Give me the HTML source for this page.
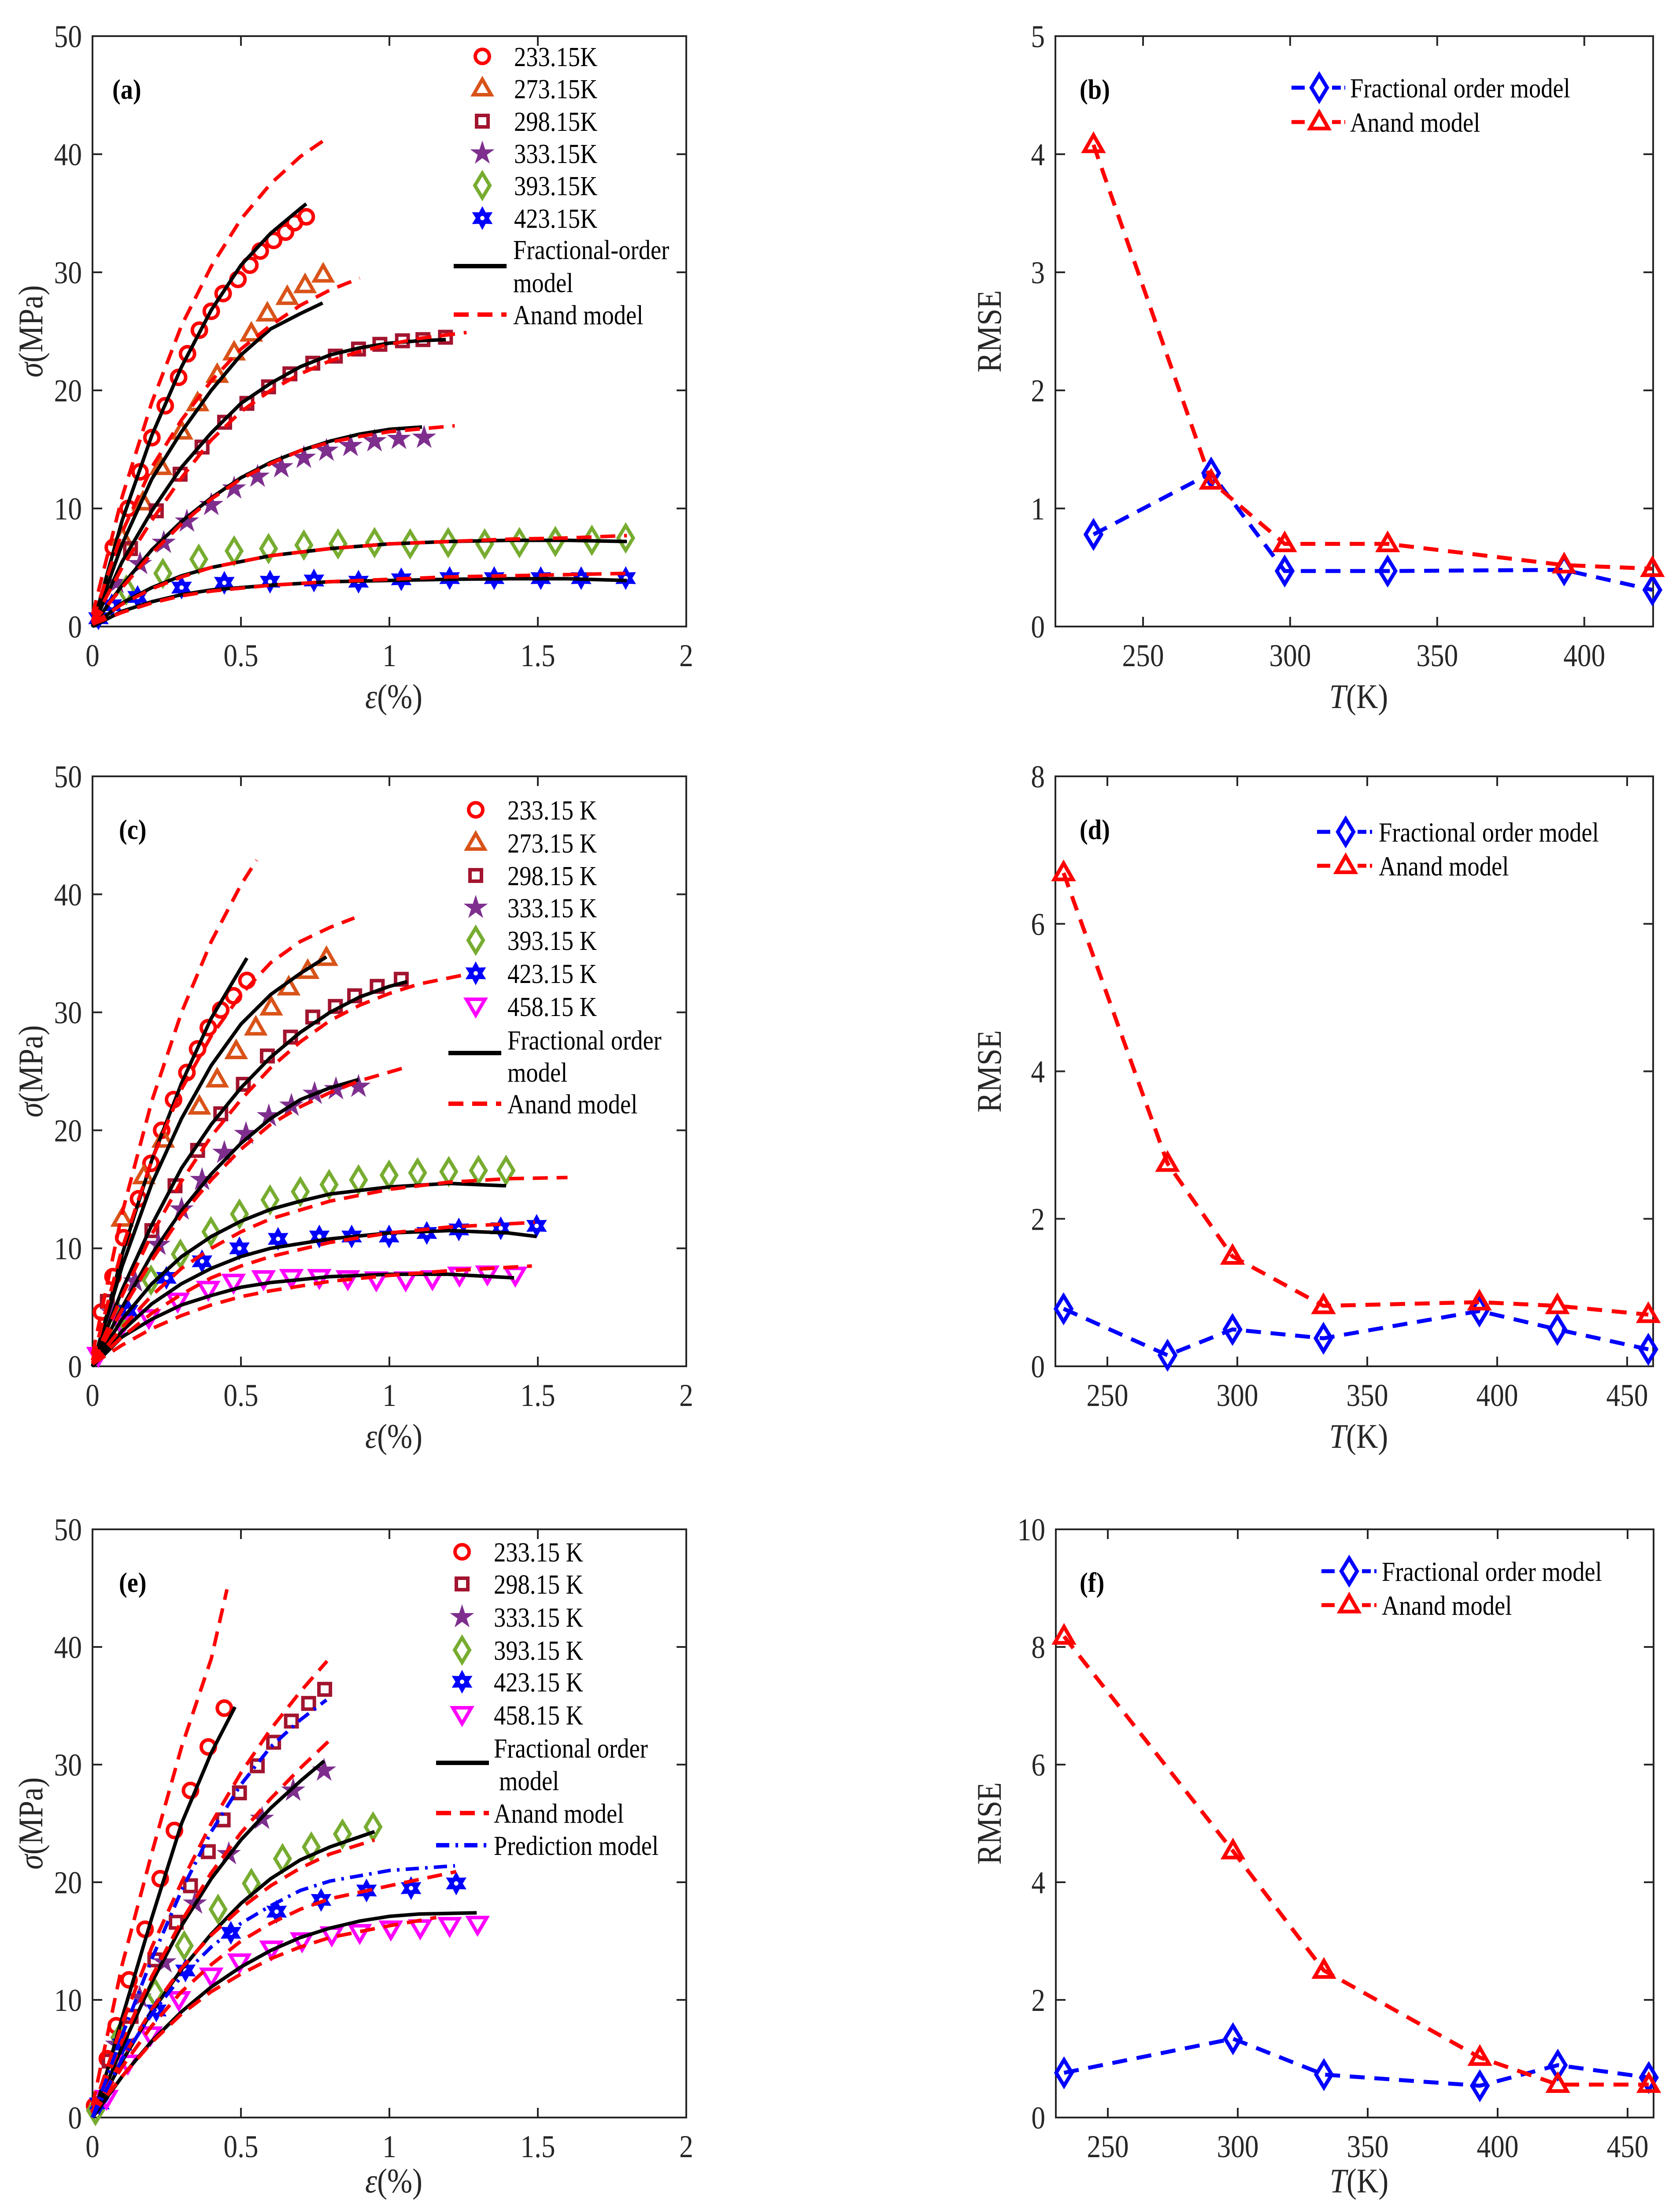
<!DOCTYPE html>
<html><head><meta charset="utf-8">
<style>
html,body{margin:0;padding:0;background:#fff;width:3814px;height:5040px;overflow:hidden;}
svg{display:block;}
text{font-family:"Liberation Serif","Times New Roman",serif;}
</style></head>
<body>
<svg id="fig" width="3814" height="5040" viewBox="0 0 3814 5040" xmlns="http://www.w3.org/2000/svg">
<rect x="0" y="0" width="3814" height="5040" fill="#fff"/>
</svg>
<script>
// ---------- Panel (a): stress-strain data ----------
const a233x=[0.07,0.12,0.16,0.20,0.245,0.29,0.32,0.36,0.40,0.44,0.49,0.53,0.565,0.61,0.65,0.68,0.72];
const a233y=[6.7,10,13.1,16,18.7,21.1,23.1,25.1,26.7,28.2,29.4,30.6,31.8,32.7,33.4,34.2,34.7];
const a273x=[0.10,0.17,0.23,0.30,0.354,0.42,0.477,0.535,0.589,0.656,0.716,0.777];
const a273y=[7.5,10.5,13.5,16.5,18.9,21.3,23.2,24.8,26.5,27.9,28.9,29.8];
const a298x=[0.128,0.215,0.295,0.369,0.445,0.52,0.593,0.665,0.742,0.818,0.896,0.968,1.044,1.113,1.189];
const a298y=[6.6,9.8,12.9,15.2,17.3,18.9,20.3,21.4,22.3,22.9,23.5,23.9,24.2,24.3,24.5];
const a333x=[0.08,0.16,0.24,0.318,0.40,0.477,0.556,0.636,0.712,0.788,0.869,0.95,1.032,1.117];
const a333y=[3.7,5.3,7.1,8.9,10.3,11.7,12.7,13.5,14.3,14.9,15.3,15.7,15.9,16.0];
const a393x=[0.114,0.237,0.358,0.477,0.593,0.712,0.827,0.95,1.07,1.198,1.321,1.438,1.559,1.682,1.796];
const a393y=[3.1,4.5,5.7,6.4,6.6,6.9,7.0,7.1,7.0,7.1,7.0,7.1,7.2,7.3,7.5];
const a423x=[0.02,0.065,0.152,0.30,0.444,0.598,0.746,0.896,1.04,1.203,1.353,1.51,1.646,1.796];
const a423y=[0.7,1.8,2.5,3.3,3.7,3.8,3.9,3.8,4.0,4.1,4.1,4.1,4.1,4.1];
const aFr233=[[0,0],[0.05,4.5],[0.1,9],[0.2,16.2],[0.3,22],[0.4,26.8],[0.5,30.6],[0.6,33.3],[0.7,35.4],[0.72,35.8]];
const aFr273=[[0,0],[0.05,3.5],[0.1,7],[0.2,12.5],[0.3,16.5],[0.4,20],[0.5,23],[0.6,25.2],[0.7,26.5],[0.775,27.4]];
const aFr298=[[0,0],[0.1,5.5],[0.2,9.8],[0.3,13.5],[0.4,16.4],[0.5,18.9],[0.6,20.6],[0.7,22],[0.8,23],[0.9,23.6],[1.0,24],[1.1,24.2],[1.19,24.3]];
const aFr333=[[0,0],[0.1,3.5],[0.2,6.5],[0.3,8.9],[0.4,10.9],[0.5,12.6],[0.6,13.9],[0.7,14.9],[0.8,15.7],[0.9,16.3],[1.0,16.7],[1.11,16.9]];
const aFr393=[[0,0],[0.1,2],[0.2,3.3],[0.3,4.3],[0.4,5],[0.6,6],[0.8,6.6],[1,7],[1.2,7.2],[1.4,7.3],[1.6,7.3],[1.8,7.2]];
const aFr423=[[0,0],[0.1,1.3],[0.2,2.1],[0.3,2.7],[0.4,3.1],[0.6,3.5],[0.8,3.8],[1.0,3.9],[1.2,4.0],[1.4,4.05],[1.6,4.05],[1.8,3.9]];
const aAn233=[[0,1],[0.05,6],[0.1,11],[0.2,19],[0.3,25.5],[0.4,30.5],[0.5,34.5],[0.6,37.5],[0.7,39.8],[0.775,41.1]];
const aAn273=[[0,0.5],[0.1,8],[0.2,13.5],[0.3,17.5],[0.4,20.8],[0.5,23.5],[0.6,25.5],[0.7,27.2],[0.8,28.5],[0.9,29.5]];
const aAn298=[[0,0.3],[0.1,5],[0.2,9],[0.3,12.6],[0.4,15.8],[0.5,18.2],[0.6,20],[0.7,21.4],[0.8,22.5],[0.9,23.3],[1,23.9],[1.1,24.4],[1.26,24.9]];
const aAn333=[[0,0.3],[0.1,3.3],[0.2,6.2],[0.3,8.7],[0.4,10.8],[0.5,12.5],[0.6,13.8],[0.7,14.9],[0.8,15.6],[0.9,16.1],[1,16.5],[1.22,17]];
const aAn393=[[0,0.2],[0.1,1.9],[0.2,3.2],[0.3,4.2],[0.4,5],[0.6,6],[0.8,6.6],[1,7],[1.2,7.2],[1.4,7.4],[1.6,7.5],[1.8,7.7]];
const aAn423=[[0,0.2],[0.1,1.2],[0.2,2],[0.3,2.6],[0.4,3],[0.6,3.5],[0.8,3.8],[1,4],[1.2,4.2],[1.4,4.3],[1.6,4.4],[1.8,4.5]];

// ---------- Panel (c) ----------
const c233x=[0.03,0.069,0.105,0.155,0.197,0.233,0.273,0.318,0.354,0.39,0.432,0.475,0.52];
const c233y=[4.6,7.6,10.9,14.2,17.2,20,22.6,24.9,26.9,28.7,30.2,31.4,32.7];
const c273x=[0.1,0.173,0.238,0.36,0.42,0.484,0.55,0.602,0.661,0.725,0.788];
const c273y=[12.5,16.1,19.2,22,24.3,26.7,28.7,30.4,32.1,33.5,34.6];
const c298x=[0.05,0.2,0.278,0.354,0.432,0.508,0.589,0.667,0.742,0.818,0.883,0.959,1.04];
const c298y=[5.5,11.5,15.3,18.3,21.4,23.9,26.3,27.9,29.6,30.5,31.4,32.2,32.8];
const c333x=[0.069,0.143,0.222,0.30,0.369,0.444,0.517,0.594,0.67,0.748,0.82,0.896];
const c333y=[4.5,7.2,10.3,13.3,15.8,18.1,19.7,21.2,22.1,23.1,23.5,23.7];
const c393x=[0.09,0.197,0.296,0.399,0.495,0.598,0.70,0.797,0.896,0.999,1.095,1.2,1.3,1.393];
const c393y=[4.1,7.3,9.5,11.4,12.9,14.1,14.8,15.4,15.8,16.2,16.4,16.5,16.6,16.6];
const c423x=[0.12,0.249,0.369,0.495,0.625,0.764,0.873,0.999,1.126,1.234,1.375,1.496];
const c423y=[4.7,7.5,8.9,10,10.8,11.0,11.0,11.0,11.3,11.6,11.7,11.9];
const c458x=[0.02,0.1,0.19,0.287,0.39,0.475,0.576,0.67,0.764,0.86,0.956,1.055,1.145,1.236,1.33,1.424];
const c458y=[0.9,3.5,4.1,5.5,6.5,7.1,7.4,7.5,7.5,7.4,7.3,7.3,7.4,7.7,7.8,7.7];
const cFr233=[[0,0],[0.05,4.5],[0.1,9.5],[0.2,17.5],[0.3,24],[0.4,29.5],[0.52,34.6]];
const cFr273=[[0,0],[0.1,8.5],[0.2,15.5],[0.3,21],[0.4,25.5],[0.5,29],[0.6,31.5],[0.7,33.3],[0.788,34.7]];
const cFr298=[[0,0],[0.1,6.5],[0.2,12],[0.3,16.8],[0.4,20.5],[0.5,23.6],[0.6,26.2],[0.7,28.3],[0.8,30],[0.9,31.3],[1.0,32.2],[1.06,32.6]];
const cFr333=[[0,0],[0.1,5],[0.2,9.5],[0.3,13.2],[0.4,16.3],[0.5,18.9],[0.6,21],[0.7,22.6],[0.8,23.6],[0.896,24.3]];
const cFr393=[[0,0],[0.1,4],[0.2,7],[0.3,9.3],[0.4,11],[0.5,12.3],[0.6,13.3],[0.7,14],[0.8,14.6],[1.0,15.2],[1.2,15.5],[1.393,15.3]];
const cFr423=[[0,0],[0.1,3],[0.2,5.3],[0.3,7],[0.4,8.3],[0.5,9.3],[0.6,10],[0.8,10.8],[1.0,11.3],[1.2,11.5],[1.4,11.3],[1.496,11.0]];
const cFr458=[[0,0],[0.1,2.5],[0.2,4],[0.3,5.2],[0.4,6],[0.5,6.7],[0.6,7.1],[0.8,7.6],[1.0,7.8],[1.2,7.8],[1.42,7.5]];
const cAn233=[[0,1],[0.05,7],[0.1,13],[0.2,22.5],[0.3,30],[0.4,36],[0.5,40.8],[0.553,42.9]];
const cAn273=[[0,0.5],[0.1,10],[0.2,17.5],[0.3,23.5],[0.4,28],[0.5,31.5],[0.6,34.2],[0.7,36],[0.8,37.2],[0.882,38]];
const cAn298=[[0,0.3],[0.1,6],[0.2,11.2],[0.3,15.7],[0.4,19.5],[0.5,22.6],[0.6,25.3],[0.7,27.5],[0.8,29.3],[0.9,30.6],[1.0,31.6],[1.1,32.4],[1.257,33.2]];
const cAn333=[[0,0.3],[0.1,4.8],[0.2,9],[0.3,12.8],[0.4,15.8],[0.5,18.4],[0.6,20.5],[0.7,22],[0.8,23.2],[0.9,24.2],[1.05,25.3]];
const cAn393=[[0,0.2],[0.1,3.3],[0.2,6],[0.3,8.3],[0.4,10],[0.5,11.4],[0.6,12.5],[0.8,14],[1.0,15],[1.2,15.6],[1.4,15.9],[1.6,16]];
const cAn423=[[0,0.2],[0.1,2.5],[0.2,4.5],[0.3,6.1],[0.4,7.5],[0.5,8.5],[0.6,9.3],[0.8,10.5],[1.0,11.3],[1.2,11.8],[1.49,12.2]];
const cAn458=[[0,0.2],[0.1,1.8],[0.2,3.2],[0.3,4.3],[0.4,5.2],[0.5,5.9],[0.6,6.4],[0.8,7.2],[1.0,7.7],[1.2,8.1],[1.48,8.5]];

// ---------- Panel (e) ----------
const e233x=[0.007,0.05,0.08,0.123,0.177,0.228,0.276,0.33,0.39,0.444];
const e233y=[1.0,5,7.8,11.7,16,20.3,24.4,27.8,31.5,34.8];
const e298x=[0.056,0.13,0.21,0.282,0.33,0.39,0.44,0.495,0.555,0.61,0.67,0.728,0.782];
const e298y=[4.8,8.6,13.4,16.6,19.7,22.6,25.3,27.6,29.9,31.9,33.7,35.2,36.4];
const e333x=[0.083,0.159,0.242,0.345,0.459,0.571,0.676,0.78];
const e333y=[6.2,10.2,13.2,18.2,22.4,25.4,27.8,29.5];
const e393x=[0.01,0.092,0.21,0.309,0.423,0.535,0.64,0.737,0.842,0.945];
const e393y=[0.6,6.8,10.6,14.6,17.7,19.9,22,23,24.1,24.7];
const e423x=[0.023,0.1,0.215,0.313,0.466,0.62,0.77,0.923,1.073,1.225];
const e423y=[1.2,6.2,9.1,12.5,15.7,17.5,18.5,19.3,19.5,19.9];
const e458x=[0.047,0.119,0.195,0.291,0.4,0.495,0.603,0.706,0.806,0.9,1.005,1.104,1.203,1.297];
const e458y=[1.6,4.6,7,10,12,13.2,14.3,15,15.5,15.7,16,16.1,16.3,16.4];
const eFr233=[[0,0],[0.05,4],[0.1,8.5],[0.2,17],[0.3,25],[0.4,31],[0.48,34.9]];
const eFr333=[[0,0],[0.1,6],[0.2,11.5],[0.3,16.3],[0.4,20.3],[0.5,23.6],[0.6,26.3],[0.7,28.6],[0.78,30.3]];
const eFr393=[[0,0],[0.1,4.8],[0.2,9],[0.3,12.6],[0.4,15.6],[0.5,18.2],[0.6,20.3],[0.7,21.9],[0.8,23],[0.95,24.3]];
const eFr458=[[0,0],[0.1,3.5],[0.2,6.5],[0.3,9],[0.4,11.1],[0.5,12.8],[0.6,14.2],[0.7,15.3],[0.8,16.1],[0.9,16.7],[1.0,17.1],[1.1,17.3],[1.294,17.4]];
const eAn233=[[0,1],[0.05,7],[0.1,13],[0.2,22.5],[0.3,31.5],[0.4,39],[0.453,44.9]];
const eAn298=[[0,0.5],[0.1,8],[0.2,14.5],[0.3,20],[0.4,25],[0.5,29.3],[0.6,33],[0.7,36.2],[0.79,38.8]];
const eAn333=[[0,0.5],[0.1,6.5],[0.2,12],[0.3,16.7],[0.4,20.8],[0.5,24.2],[0.6,27.1],[0.7,29.7],[0.8,32.1]];
const eAn393=[[0,0.3],[0.1,5],[0.2,9.2],[0.3,12.7],[0.4,15.5],[0.5,17.8],[0.6,19.7],[0.7,21.2],[0.8,22.4],[0.95,23.6]];
const eAn423=[[0,0.3],[0.1,4.3],[0.2,7.8],[0.3,10.7],[0.4,13],[0.5,15],[0.6,16.5],[0.7,17.7],[0.8,18.6],[1.0,19.7],[1.225,20.9]];
const eAn458=[[0,0.3],[0.1,3.5],[0.2,6.4],[0.3,8.8],[0.4,10.7],[0.5,12.2],[0.6,13.5],[0.7,14.5],[0.8,15.3],[1.0,16.3],[1.158,17]];
const ePr298=[[0,0],[0.1,7],[0.2,13.5],[0.3,19.3],[0.4,24.3],[0.5,28.3],[0.6,31.5],[0.7,33.8],[0.788,35.5]];
const ePr423=[[0,0],[0.1,5],[0.2,8.8],[0.3,12],[0.4,14.5],[0.5,16.5],[0.6,18],[0.7,19.3],[0.8,20.1],[1.0,21],[1.221,21.4]];

// ---------- RMSE panels ----------
const bT=[233.15,273.15,298.15,333.15,393.15,423.15];
const bFrac=[0.78,1.30,0.47,0.47,0.48,0.31];
const bAnand=[4.08,1.23,0.70,0.70,0.52,0.49];
const dT=[233.15,273.15,298.15,333.15,393.15,423.15,458.15];
const dFrac=[0.78,0.15,0.50,0.38,0.75,0.50,0.23];
const dAnand=[6.69,2.75,1.49,0.82,0.87,0.82,0.70];
const fT=[233.15,298.15,333.15,393.15,423.15,458.15];
const fFrac=[0.76,1.34,0.73,0.54,0.89,0.68];
const fAnand=[8.18,4.53,2.5,1.02,0.56,0.56];

const strainTicks=[0,0.5,1,1.5,2];
const strainTickLabels=["0","0.5","1","1.5","2"];
const stressTicks=[0,10,20,30,40,50];
const bXTicks=[250,300,350,400];
const bYTicks=[0,1,2,3,4,5];
const dXTicks=[250,300,350,400,450];
const dYTicks=[0,2,4,6,8];
const fYTicks=[0,2,4,6,8,10];

const NS="http://www.w3.org/2000/svg";
const fig=document.getElementById('fig');
const AX="#262626";
const SQ=0.88;
const C={r:"#ff0000",o:"#d95319",dr:"#a2142f",p:"#7e2f8e",g:"#77ac30",b:"#0000ff",m:"#ff00ff"};

function el(tag,attrs,parent){const e=document.createElementNS(NS,tag);for(const k in attrs)e.setAttribute(k,attrs[k]);(parent||fig).appendChild(e);return e;}
function txt(s,x,y,size,anchor,parent,extra){
  const t=el('text',Object.assign({x:0,y:0,'font-size':size,'text-anchor':anchor||'start',fill:"#000",transform:`translate(${x} ${y}) scale(${SQ} 1)`},extra||{}),parent);
  t.textContent=s;return t;}

function makeAxes(name,L,R,T,B,xd,yd){
  const g=el('g',{});
  
  
  return {g:g,L:L,R:R,T:T,B:B,sx:v=>L+(v-xd[0])/(xd[1]-xd[0])*(R-L),sy:v=>B-(v-yd[0])/(yd[1]-yd[0])*(B-T)};
}
function drawFrame(ax,xt,xl,yt,yl,xlabel,ylabel,plabel,plx,xlabOff){
  xlabOff=xlabOff||185;
  const f=el('g',{},ax.g);
  
  
  xt.forEach((v,i)=>{const x=ax.sx(v);
    el('line',{x1:x,y1:ax.B,x2:x,y2:ax.B-22,stroke:AX,'stroke-width':4},f);
    el('line',{x1:x,y1:ax.T,x2:x,y2:ax.T+22,stroke:AX,'stroke-width':4},f);
    const t=txt(xl[i],x,ax.B+90,72,'middle',f,{fill:AX});
    
    
  });
  yt.forEach((v,i)=>{const y=ax.sy(v);
    el('line',{x1:ax.L,y1:y,x2:ax.L+22,y2:y,stroke:AX,'stroke-width':4},f);
    el('line',{x1:ax.R,y1:y,x2:ax.R-22,y2:y,stroke:AX,'stroke-width':4},f);
    const t=txt(yl[i],ax.L-24,y+25,72,'end',f,{fill:AX});
    
    
  });
  el('rect',{x:ax.L,y:ax.T,width:ax.R-ax.L,height:ax.B-ax.T,fill:'none',stroke:AX,'stroke-width':4},f);
  const xlab=el('text',{x:0,y:0,'font-size':78,'text-anchor':'middle',fill:AX,transform:`translate(${(ax.L+ax.R)/2+10} ${ax.B+xlabOff}) scale(${SQ} 1)`},f);
  xlab.innerHTML=xlabel;
  
  
  const cy=(ax.T+ax.B)/2, cx=ylabel[1];
  const ylab=el('text',{x:0,y:0,'font-size':78,'text-anchor':'middle',fill:AX,transform:`translate(${cx} ${cy}) rotate(-90) scale(${SQ} 1)`},f);
  ylab.innerHTML=ylabel[0];
  
  
  const pl=txt(plabel,plx,ax.T+142,64,'start',f,{'font-weight':'bold'});
  
  
}
function marker(type,x,y,color,parent,s){
  s=s||1;let e;
  const sw=8*s;
  if(type==='o'){e=el('circle',{cx:x,cy:y,r:16*s,fill:'none',stroke:color,'stroke-width':sw},parent);}
  else if(type==='^'){e=el('polygon',{points:`${x},${y-21*s} ${x+20*s},${y+14*s} ${x-20*s},${y+14*s}`,fill:'none',stroke:color,'stroke-width':sw},parent);}
  else if(type==='v'){e=el('polygon',{points:`${x},${y+20*s} ${x+21*s},${y-16*s} ${x-21*s},${y-16*s}`,fill:'none',stroke:color,'stroke-width':sw},parent);}
  else if(type==='s'){e=el('rect',{x:x-13*s,y:y-13*s,width:26*s,height:26*s,fill:'none',stroke:color,'stroke-width':sw},parent);}
  else if(type==='d'){e=el('polygon',{points:`${x},${y-28*s} ${x+17*s},${y} ${x},${y+28*s} ${x-17*s},${y}`,fill:'none',stroke:color,'stroke-width':sw},parent);}
  else if(type==='p'){let p=[];for(let i=0;i<10;i++){const r=i%2?11*s:29*s;const a=-Math.PI/2+i*Math.PI/5;p.push((x+r*Math.cos(a)).toFixed(1)+','+(y+r*Math.sin(a)).toFixed(1));}
    e=el('polygon',{points:p.join(' '),fill:color,stroke:'none'},parent);}
  else if(type==='h'){let p=[];for(let i=0;i<12;i++){const r=i%2?15*s:27*s;const a=-Math.PI/2+i*Math.PI/6;p.push((x+r*Math.cos(a)).toFixed(1)+','+(y+r*Math.sin(a)).toFixed(1));}
    e=el('polygon',{points:p.join(' '),fill:color,stroke:'none'},parent);
    el('circle',{cx:x,cy:y,r:5*s,fill:'#fff'},parent);}
  return e;
}
function scatter(ax,name,xs,ys,type,color){
  const g=el('g',{},ax.g);
  
  
  xs.forEach((v,i)=>{
    const m=marker(type,ax.sx(v),ax.sy(ys[i]),color,g);
    
    
  });
}
function curve(ax,name,pts,color,dash,w){
  const d=pts.map((p,i)=>(i?'L':'M')+ax.sx(p[0]).toFixed(1)+','+ax.sy(p[1]).toFixed(1)).join(' ');
  const a={d:d,fill:'none',stroke:color,'stroke-width':w||8,'stroke-linejoin':'round'};
  if(dash)a['stroke-dasharray']=dash;
  const e=el('path',a,ax.g);
  
  
  return e;
}
function lineSeries(ax,name,xs,ys,color,type){
  const g=el('g',{},ax.g);
  
  
  const d=xs.map((v,i)=>(i?'L':'M')+ax.sx(v).toFixed(1)+','+ax.sy(ys[i]).toFixed(1)).join(' ');
  el('path',{d:d,fill:'none',stroke:color,'stroke-width':9,'stroke-dasharray':'34 22'},g);
  xs.forEach((v,i)=>{
    const m=marker(type,ax.sx(v),ax.sy(ys[i]),color,g,1.05);
    
    
  });
}
const DASH='34 20', DASHDOT='30 14 6 14';
function legendEntry(parent,name,x,y,label,type,color){
  const g=el('g',{},parent);
  
  
  if(type)marker(type,x,y,color,g);
  txt(label,x+72,y+22,62,'start',g);
}
function legendLine(parent,name,x1,x2,y,lines,color,dash){
  const g=el('g',{},parent);
  
  
  const a={x1:x1,y1:y,x2:x2,y2:y,stroke:color,'stroke-width':10};
  if(dash)a['stroke-dasharray']=dash;
  el('line',a,g);
  lines.forEach(l=>txt(l[0],l[1],l[2],62,'start',g));
}
function rmseLegend(ax,lx1,lx2,dx,tx,y1,y2){
  const g=el('g',{},ax.g);
  
  
  const e1=el('g',{},g);
  
  
  el('line',{x1:lx1,y1:y1,x2:lx2,y2:y1,stroke:C.b,'stroke-width':9,'stroke-dasharray':'30 62 20 8 6 100'},e1);
  marker('d',dx,y1,C.b,e1,1.05);
  txt('Fractional order model',tx,y1+22,62,'start',e1);
  const e2=el('g',{},g);
  
  
  el('line',{x1:lx1,y1:y2,x2:lx2,y2:y2,stroke:C.r,'stroke-width':9,'stroke-dasharray':'30 62 20 8 6 100'},e2);
  marker('^',dx,y2,C.r,e2,1.05);
  txt('Anand model',tx,y2+22,62,'start',e2);
}

const sigLabel=['<tspan font-style="italic">σ</tspan>(MPa)',96];
const epsLabel='<tspan font-style="italic">ε</tspan>(%)';
const tLabel='<tspan font-style="italic">T</tspan>(K)';

// ----- Panel (a) -----
(function(){
  const ax=makeAxes('panel-a',210,1558,82,1422,[0,2],[0,50]);
  drawFrame(ax,strainTicks,strainTickLabels,stressTicks,stressTicks.map(String),epsLabel,sigLabel,'(a)',255);
  scatter(ax,'series-233K',a233x,a233y,'o',C.r);
  scatter(ax,'series-273K',a273x,a273y,'^',C.o);
  scatter(ax,'series-298K',a298x,a298y,'s',C.dr);
  scatter(ax,'series-333K',a333x,a333y,'p',C.p);
  scatter(ax,'series-393K',a393x,a393y,'d',C.g);
  scatter(ax,'series-423K',a423x,a423y,'h',C.b);
  [aFr233,aFr273,aFr298,aFr333,aFr393,aFr423].forEach((p,i)=>curve(ax,'fractional-curve-'+i,p,'#000',null,8));
  [aAn233,aAn273,aAn298,aAn333,aAn393,aAn423].forEach((p,i)=>curve(ax,'anand-curve-'+i,p,C.r,DASH,8));
  const lg=el('g',{},ax.g);
  
  
  const ys=[128,201,275,348,421,495];
  const labs=['233.15K','273.15K','298.15K','333.15K','393.15K','423.15K'];
  const ty=['o','^','s','p','d','h'],tc=[C.r,C.o,C.dr,C.p,C.g,C.b];
  ys.forEach((y,i)=>legendEntry(lg,'legend-entry-'+labs[i],1095,y,labs[i],ty[i],tc[i]));
  legendLine(lg,'legend-entry-fractional',1030,1150,604,[['Fractional-order',1165,588],['model',1165,663]],'#000');
  legendLine(lg,'legend-entry-anand',1030,1150,714,[['Anand model',1165,736]],C.r,DASH);
})();

// ----- Panel (b) -----
(function(){
  const ax=makeAxes('panel-b',2396,3753,82,1422,[220.2,423.4],[0,5]);
  drawFrame(ax,bXTicks,bXTicks.map(String),bYTicks,bYTicks.map(String),tLabel,['RMSE',2272],'(b)',2451);
  lineSeries(ax,'fractional-rmse',bT,bFrac,C.b,'d');
  lineSeries(ax,'anand-rmse',bT,bAnand,C.r,'^');
  rmseLegend(ax,2932,3054,2995,3065,199,277);
})();

// ----- Panel (c) -----
(function(){
  const ax=makeAxes('panel-c',210,1558,1762,3101,[0,2],[0,50]);
  drawFrame(ax,strainTicks,strainTickLabels,stressTicks,stressTicks.map(String),epsLabel,sigLabel,'(c)',270);
  scatter(ax,'series-233K',c233x,c233y,'o',C.r);
  scatter(ax,'series-273K',c273x,c273y,'^',C.o);
  scatter(ax,'series-298K',c298x,c298y,'s',C.dr);
  scatter(ax,'series-333K',c333x,c333y,'p',C.p);
  scatter(ax,'series-393K',c393x,c393y,'d',C.g);
  scatter(ax,'series-423K',c423x,c423y,'h',C.b);
  scatter(ax,'series-458K',c458x,c458y,'v',C.m);
  [cFr233,cFr273,cFr298,cFr333,cFr393,cFr423,cFr458].forEach((p,i)=>curve(ax,'fractional-curve-'+i,p,'#000',null,8));
  [cAn233,cAn273,cAn298,cAn333,cAn393,cAn423,cAn458].forEach((p,i)=>curve(ax,'anand-curve-'+i,p,C.r,DASH,8));
  const lg=el('g',{},ax.g);
  
  
  const ys=[1838,1913,1987,2060,2134,2209,2284];
  const labs=['233.15 K','273.15 K','298.15 K','333.15 K','393.15 K','423.15 K','458.15 K'];
  const ty=['o','^','s','p','d','h','v'],tc=[C.r,C.o,C.dr,C.p,C.g,C.b,C.m];
  ys.forEach((y,i)=>legendEntry(lg,'legend-entry-'+i,1080,y,labs[i],ty[i],tc[i]));
  legendLine(lg,'legend-entry-fractional',1018,1138,2390,[['Fractional order',1152,2382],['model',1152,2455]],'#000');
  legendLine(lg,'legend-entry-anand',1018,1138,2505,[['Anand model',1152,2527]],C.r,DASH);
})();

// ----- Panel (d) -----
(function(){
  const ax=makeAxes('panel-d',2396,3753,1762,3101,[230,460],[0,8]);
  drawFrame(ax,dXTicks,dXTicks.map(String),dYTicks,dYTicks.map(String),tLabel,['RMSE',2272],'(d)',2451);
  lineSeries(ax,'fractional-rmse',dT,dFrac,C.b,'d');
  lineSeries(ax,'anand-rmse',dT,dAnand,C.r,'^');
  rmseLegend(ax,2990,3115,3055,3130,1888,1965);
})();

// ----- Panel (e) -----
(function(){
  const ax=makeAxes('panel-e',210,1558,3471,4806,[0,2],[0,50]);
  drawFrame(ax,strainTicks,strainTickLabels,stressTicks,stressTicks.map(String),epsLabel,sigLabel,'(e)',270,170);
  scatter(ax,'series-233K',e233x,e233y,'o',C.r);
  scatter(ax,'series-298K',e298x,e298y,'s',C.dr);
  scatter(ax,'series-333K',e333x,e333y,'p',C.p);
  scatter(ax,'series-393K',e393x,e393y,'d',C.g);
  scatter(ax,'series-423K',e423x,e423y,'h',C.b);
  scatter(ax,'series-458K',e458x,e458y,'v',C.m);
  [eFr233,eFr333,eFr393,eFr458].forEach((p,i)=>curve(ax,'fractional-curve-'+i,p,'#000',null,8));
  [eAn233,eAn298,eAn333,eAn393,eAn423,eAn458].forEach((p,i)=>curve(ax,'anand-curve-'+i,p,C.r,DASH,8));
  [ePr298,ePr423].forEach((p,i)=>curve(ax,'prediction-curve-'+i,p,C.b,DASHDOT,8));
  const lg=el('g',{},ax.g);
  
  
  const ys=[3522,3595,3670,3745,3817,3892];
  const labs=['233.15 K','298.15 K','333.15 K','393.15 K','423.15 K','458.15 K'];
  const ty=['o','s','p','d','h','v'],tc=[C.r,C.dr,C.p,C.g,C.b,C.m];
  ys.forEach((y,i)=>legendEntry(lg,'legend-entry-'+i,1049,y,labs[i],ty[i],tc[i]));
  legendLine(lg,'legend-entry-fractional',990,1110,4001,[['Fractional order',1121,3989],[' model',1133,4063]],'#000');
  legendLine(lg,'legend-entry-anand',990,1110,4115,[['Anand  model',1121,4137]],C.r,DASH);
  legendLine(lg,'legend-entry-prediction',990,1110,4188,[['Prediction model',1121,4210]],C.b,DASHDOT);
})();

// ----- Panel (f) -----
(function(){
  const ax=makeAxes('panel-f',2397,3754,3471,4806,[230,460],[0,10]);
  drawFrame(ax,dXTicks,dXTicks.map(String),fYTicks,fYTicks.map(String),tLabel,['RMSE',2272],'(f)',2451,170);
  lineSeries(ax,'fractional-rmse',fT,fFrac,C.b,'d');
  lineSeries(ax,'anand-rmse',fT,fAnand,C.r,'^');
  rmseLegend(ax,3000,3125,3063,3137,3566,3643);
})();
</script>
</body></html>
